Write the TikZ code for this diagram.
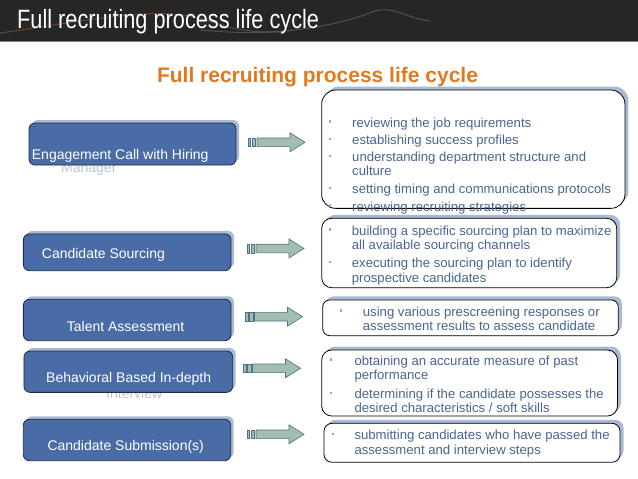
\documentclass[tikz,border=0pt]{standalone}
\usepackage{fontspec}
\setmainfont{Liberation Sans}
\usepackage{graphicx}
\definecolor{hdr}{HTML}{262626}
\definecolor{hdrline}{HTML}{808080}
\definecolor{boxblue}{HTML}{4A6CA6}
\definecolor{shadowblue}{HTML}{A9BAD5}
\definecolor{boxedge}{HTML}{1E2B45}
\definecolor{txtblue}{HTML}{4A6591}
\definecolor{bulletc}{HTML}{A0A9BC}
\definecolor{arrowfill}{HTML}{A3BDB3}
\definecolor{arrowedge}{HTML}{4D7285}
\definecolor{subor}{HTML}{E07A1F}
\definecolor{faint}{HTML}{BFC4CF}
\definecolor{swooshA}{HTML}{8A5A3A}
\definecolor{swooshB}{HTML}{6A6A72}
\tikzset{
  stepbox/.style={fill=boxblue, draw=boxedge, line width=0.8pt, rounded corners=6pt, inner sep=0pt},
  stepshadow/.style={fill=shadowblue, draw=none, rounded corners=6pt, inner sep=0pt},
  infobox/.style={fill=white, draw=black, line width=0.8pt, inner sep=0pt},
  infoshadow/.style={fill=shadowblue, draw=none, inner sep=0pt},
  steptext/.style={text=white, font=\fontsize{14}{16}\selectfont, anchor=base west, inner sep=0pt},
  faintext/.style={text=faint, font=\fontsize{14}{16}\selectfont, anchor=base west, inner sep=0pt},
  info/.style={text=txtblue, font=\fontsize{13.15}{15}\selectfont, anchor=base west, inner sep=0pt},
  bul/.style={rectangle, fill=bulletc, draw=none, inner sep=0pt, minimum size=2.4pt},
  arr/.style={fill=arrowfill, draw=arrowedge, line width=0.6pt},
  swoosh/.style={line width=1pt, opacity=0.6},
  blockarr/.pic={
    \draw[arr] (0,-4.3) rectangle (2.6,4.3);
    \draw[arr] (3.8,-4.3) rectangle (7.6,4.3);
    \draw[arr] (9,-4.3) -- (42,-4.3) -- (42,-9.5) -- (57,0) -- (42,9.5) -- (42,4.3) -- (9,4.3) -- cycle;
  }
}
\begin{document}
\begin{tikzpicture}[x=1pt,y=-1pt]
\useasboundingbox (0,0) rectangle (638,479);
\fill[white] (0,0) rectangle (638,479);
% header
\fill[hdr] (0,0) rectangle (638,41);
\fill[hdrline] (0,41) rectangle (638,42.2);
\draw[swoosh, swooshA] (0,33) .. controls (80,22) and (140,8) .. (190,16) .. controls (220,22) and (230,33) .. (280,32);
\draw[swoosh, swooshB] (200,30) .. controls (280,38) and (340,25) .. (375,11) .. controls (395,6) and (405,18) .. (430,21);
\node[text=white, anchor=base west, inner sep=0pt, font=\fontsize{26.5}{30}\selectfont] (title) at (17,28.3) {\scalebox{0.82}[1]{Full recruiting process life cycle}};
\node[text=subor, anchor=base, inner sep=0pt, font=\fontsize{21}{24}\bfseries] (subtitle) at (317.5,82) {Full recruiting process life cycle};

% overflowing second lines, partly hidden behind the boxes
\node[faintext] (t1b) at (61,172.3) {Manager};
\node[faintext] (t4b) at (106,398) {Interview};

% left boxes
\node[stepshadow, minimum width=207pt, minimum height=42pt] (s1) at (135.5,141) {};
\node[stepbox, minimum width=207pt, minimum height=42pt] (l1) at (132.5,144) {};
\node[stepshadow, minimum width=207.7pt, minimum height=36.7pt] (s2) at (130.2,249.3) {};
\node[stepbox, minimum width=207.7pt, minimum height=36.7pt] (l2) at (127.2,252.3) {};
\node[stepshadow, minimum width=207.7pt, minimum height=41.4pt] (s3) at (130.2,317) {};
\node[stepbox, minimum width=207.7pt, minimum height=41.4pt] (l3) at (127.2,320) {};
\node[stepshadow, minimum width=208.7pt, minimum height=41.3pt] (s4) at (131.3,368.7) {};
\node[stepbox, minimum width=208.7pt, minimum height=41.3pt] (l4) at (128.3,371.7) {};
\node[stepshadow, minimum width=207.4pt, minimum height=41.4pt] (s5) at (130,437) {};
\node[stepbox, minimum width=207.4pt, minimum height=41.4pt] (l5) at (127,440) {};

\node[steptext] (t1) at (31.7,159.3) {Engagement Call with Hiring};
\node[steptext] (t2) at (41.7,258.3) {Candidate Sourcing};
\node[steptext] (t3) at (66.7,331.7) {Talent Assessment};
\node[steptext] (t4) at (46,382.3) {Behavioral Based In-depth};
\node[steptext] (t5) at (47.3,450.7) {Candidate Submission(s)};

% arrows
\pic at (248,142.3) {blockarr};
\pic at (247,248.5) {blockarr};
\pic at (245.5,316.7) {blockarr};
\pic at (243.5,368.3) {blockarr};
\pic at (247,434.3) {blockarr};

% right boxes
\node[infoshadow, rounded corners=14pt, minimum width=303.3pt, minimum height=118.3pt] (rs1) at (476.8,145.7) {};
\node[infobox, rounded corners=14pt, minimum width=303.3pt, minimum height=118.3pt] (r1) at (473.3,149.2) {};
\node[infoshadow, rounded corners=10pt, minimum width=295pt, minimum height=69.4pt] (rs2) at (472.7,249.5) {};
\node[infobox, rounded corners=10pt, minimum width=295pt, minimum height=69.4pt] (r2) at (469.2,253) {};
\node[infoshadow, rounded corners=7pt, minimum width=295.6pt, minimum height=35.7pt] (rs3) at (474,314.3) {};
\node[infobox, rounded corners=7pt, minimum width=295.6pt, minimum height=35.7pt] (r3) at (470.5,317.8) {};
\node[infoshadow, rounded corners=10pt, minimum width=295.8pt, minimum height=66pt] (rs4) at (473.1,379.5) {};
\node[infobox, rounded corners=10pt, minimum width=295.8pt, minimum height=66pt] (r4) at (469.6,383) {};
\node[infoshadow, rounded corners=8pt, minimum width=296pt, minimum height=39pt] (rs5) at (475.5,439.3) {};
\node[infobox, rounded corners=8pt, minimum width=296pt, minimum height=39pt] (r5) at (472,442.8) {};

% box 1 text
\node[bul] (b11) at (330,121.5) {};
\node[info] (i11) at (352,127) {reviewing the job requirements};
\node[bul] (b12) at (330,139) {};
\node[info] (i12) at (352,144.5) {establishing success profiles};
\node[bul] (b13) at (330,156) {};
\node[info] (i13) at (352,161.5) {understanding department structure and};
\node[info] (i13b) at (352,175.7) {culture};
\node[bul] (b14) at (330,187.8) {};
\node[info] (i14) at (352,193.3) {setting timing and communications protocols};
\node[bul] (b15) at (330,205.5) {};
\node[info] (i15) at (352,211) {reviewing recruiting strategies};
% box 2 text
\node[bul] (b21) at (330,229.5) {};
\node[info] (i21) at (351.7,235) {building a specific sourcing plan to maximize};
\node[info] (i21b) at (351.7,249.3) {all available sourcing channels};
\node[bul] (b22) at (330,262) {};
\node[info] (i22) at (351.7,267.5) {executing the sourcing plan to identify};
\node[info] (i22b) at (351.7,282) {prospective candidates};
% box 3 text
\node[bul] (b31) at (340.7,310.5) {};
\node[info] (i31) at (362.7,316) {using various prescreening responses or};
\node[info] (i31b) at (362.7,330) {assessment results to assess candidate};
% box 4 text
\node[bul] (b41) at (331,359.5) {};
\node[info] (i41) at (354.3,365) {obtaining an accurate measure of past};
\node[info] (i41b) at (354.3,379.3) {performance};
\node[bul] (b42) at (331,392.8) {};
\node[info] (i42) at (354.3,398.3) {determining if the candidate possesses the};
\node[info] (i42b) at (354.3,412.7) {desired characteristics / soft skills};
% box 5 text
\node[bul] (b51) at (332.7,433.8) {};
\node[info] (i51) at (354.3,439.3) {submitting candidates who have passed the};
\node[info] (i51b) at (354.3,454.3) {assessment and interview steps};
\end{tikzpicture}
\end{document}
